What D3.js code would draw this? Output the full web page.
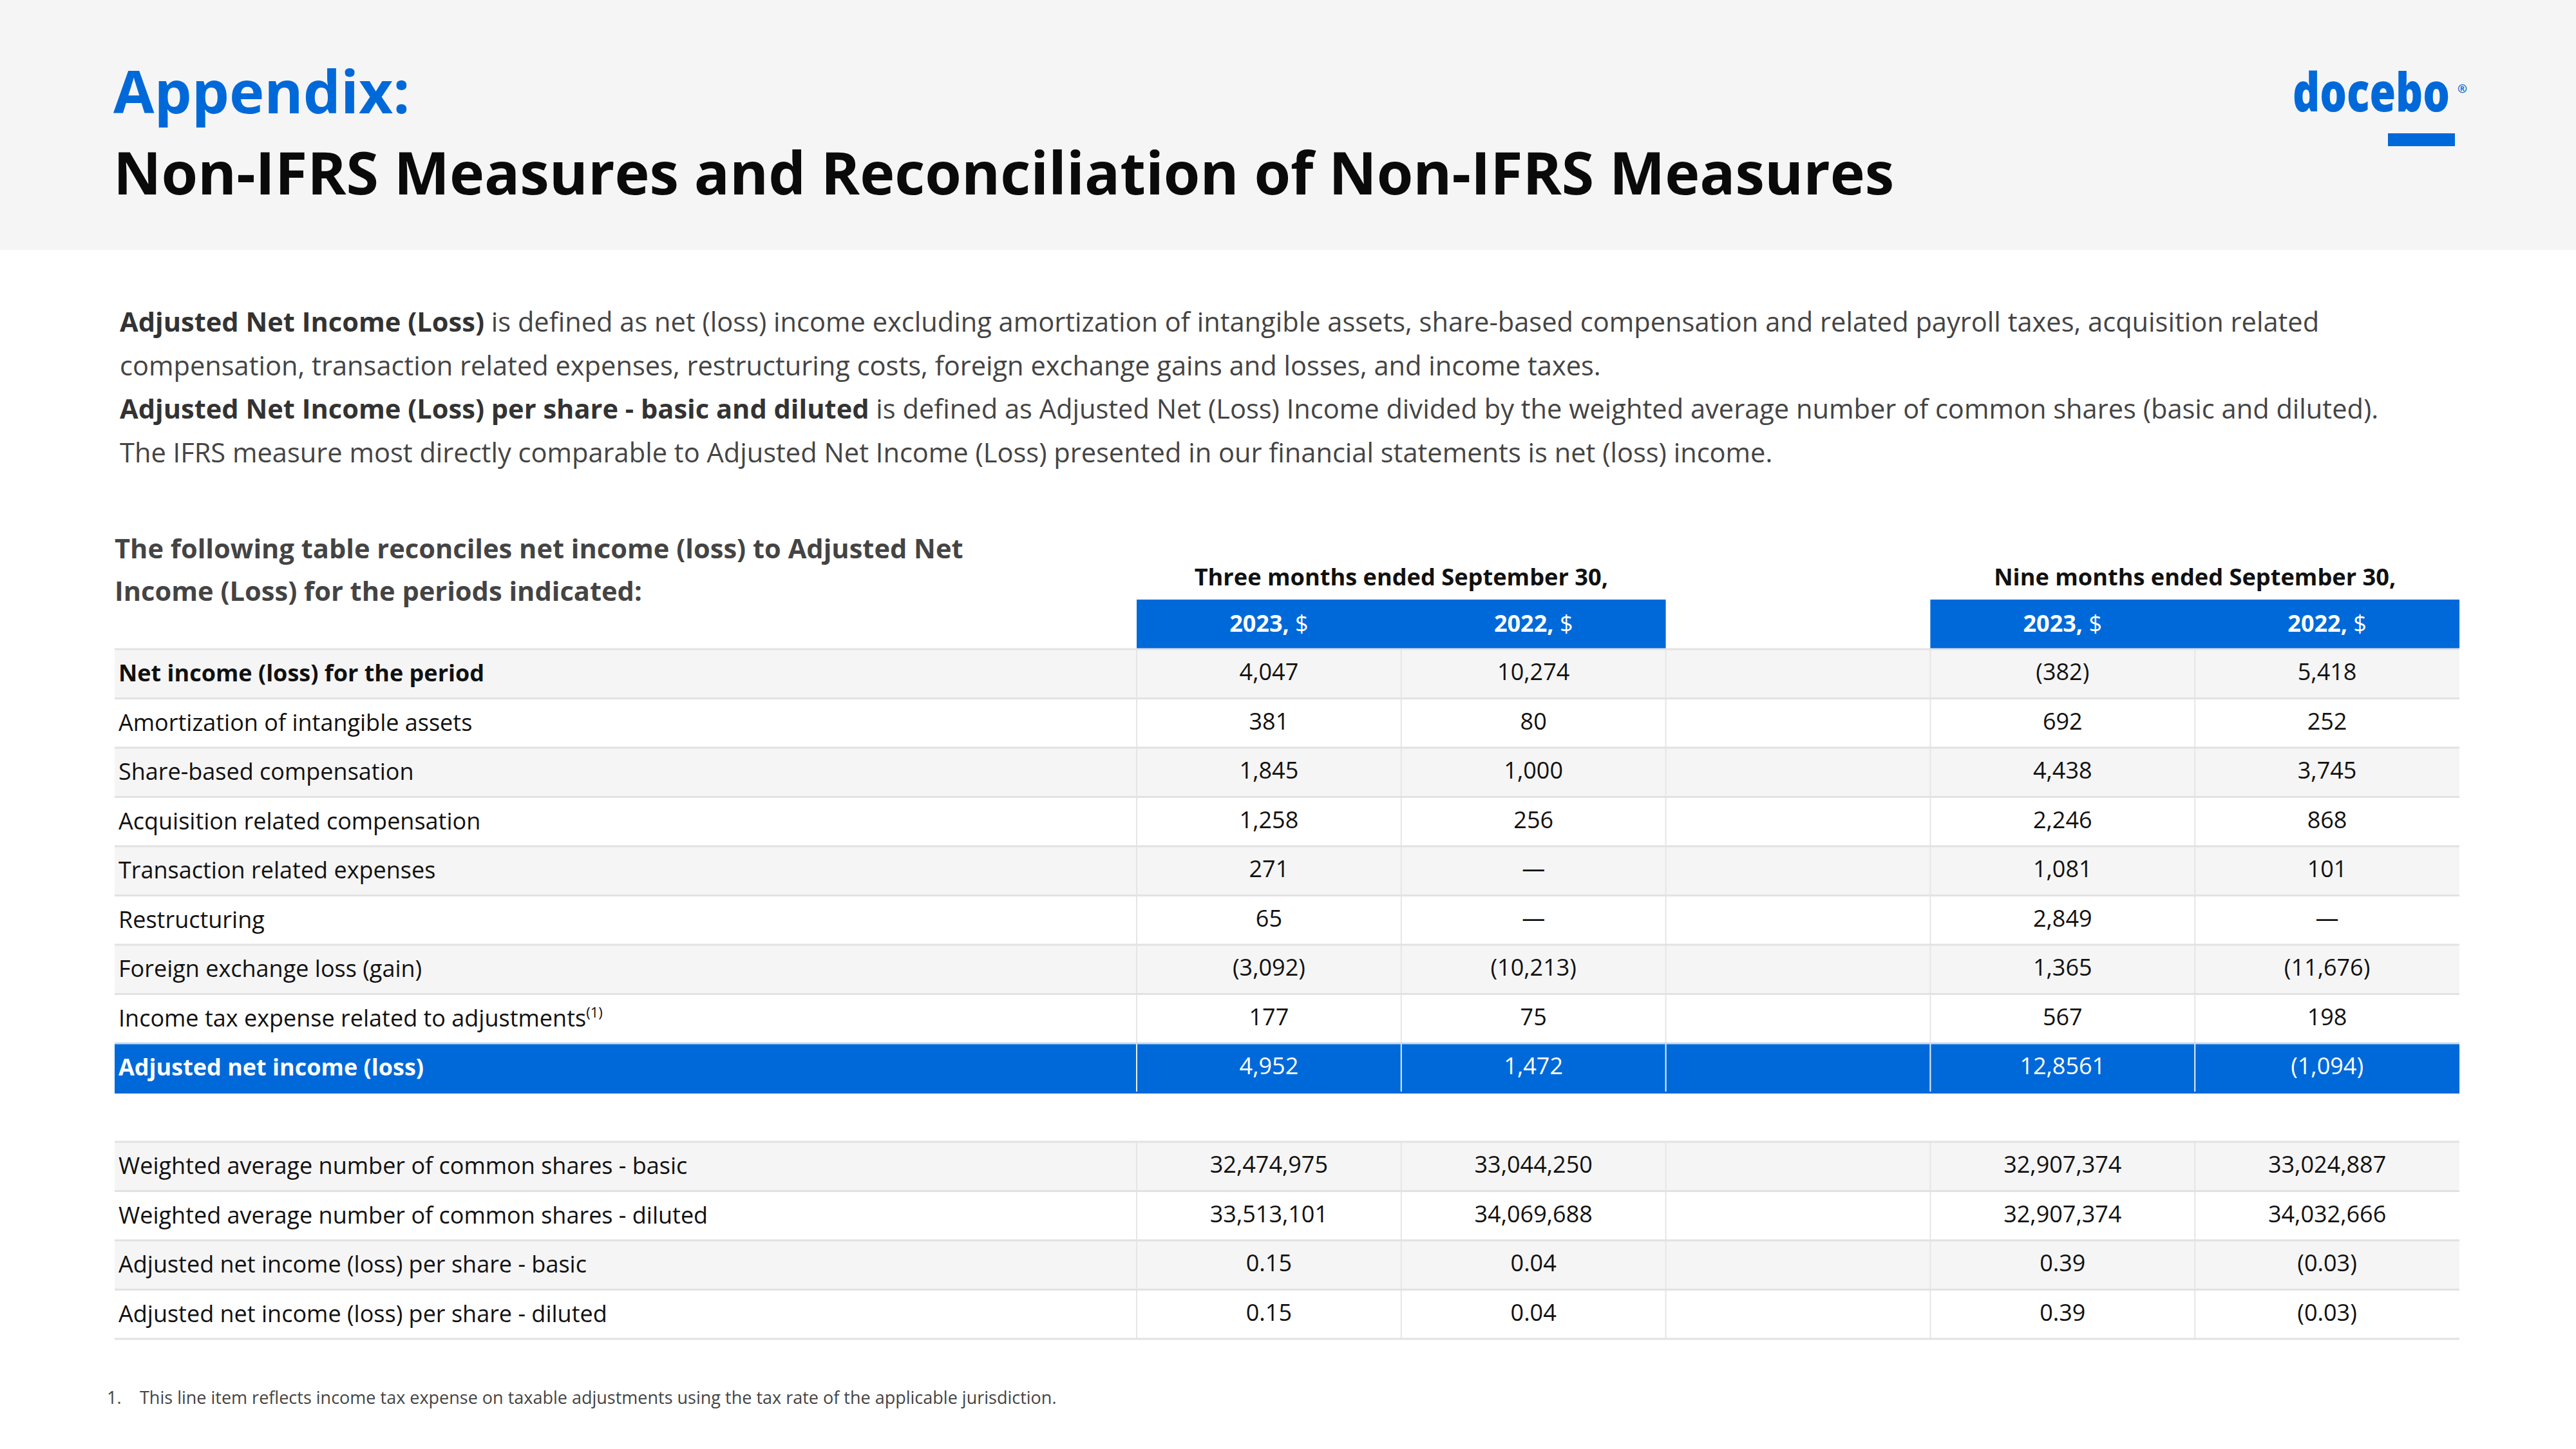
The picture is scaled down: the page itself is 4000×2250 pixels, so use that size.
<!DOCTYPE html>
<html><head><meta charset="utf-8">
<script src="https://cdn.jsdelivr.net/npm/d3@7"></script>
<style>html,body{margin:0;padding:0;background:#fff;} svg{display:block;font-family:"Open Sans",sans-serif;}</style>
</head><body>
<script>
// ---------- data ----------
const columnHeaders = ["2023,", "2022,", "", "2023,", "2022,"];
const periodHeaders = ["Three months ended September 30,", "Nine months ended September 30,"];
const rowLabels = [
  "Net income (loss) for the period",
  "Amortization of intangible assets",
  "Share-based compensation",
  "Acquisition related compensation",
  "Transaction related expenses",
  "Restructuring",
  "Foreign exchange loss (gain)",
  "Income tax expense related to adjustments",
  "Adjusted net income (loss)"
];
const threeMonths2023 = ["4,047","381","1,845","1,258","271","65","(3,092)","177","4,952"];
const threeMonths2022 = ["10,274","80","1,000","256","—","—","(10,213)","75","1,472"];
const nineMonths2023  = ["(382)","692","4,438","2,246","1,081","2,849","1,365","567","12,8561"];
const nineMonths2022  = ["5,418","252","3,745","868","101","—","(11,676)","198","(1,094)"];

const shareLabels = [
  "Weighted average number of common shares - basic",
  "Weighted average number of common shares - diluted",
  "Adjusted net income (loss) per share - basic",
  "Adjusted net income (loss) per share - diluted"
];
const shares3m2023 = ["32,474,975","33,513,101","0.15","0.15"];
const shares3m2022 = ["33,044,250","34,069,688","0.04","0.04"];
const shares9m2023 = ["32,907,374","32,907,374","0.39","0.39"];
const shares9m2022 = ["33,024,887","34,032,666","(0.03)","(0.03)"];

// ---------- drawing ----------
const W = 4000, H = 2250;
const BLUE = "#0069d9";
const svg = d3.select("body").append("svg").attr("width", W).attr("height", H);

svg.append("rect").attr("x",0).attr("y",0).attr("width",W).attr("height",H).attr("fill","#fff");
svg.append("rect").attr("x",0).attr("y",0).attr("width",W).attr("height",388).attr("fill","#f5f5f5");

svg.append("text").attr("x",176).attr("y",176).attr("font-size",92).attr("font-weight",700)
  .attr("fill",BLUE).text("Appendix:");
svg.append("text").attr("x",176).attr("y",302).attr("font-size",91.5).attr("font-weight",700)
  .attr("fill","#0a0a0a").text("Non-IFRS Measures and Reconciliation of Non-IFRS Measures");

// logo: word scaled horizontally to the logo width
const logoG = svg.append("g").attr("transform","translate(3560,173)");
const logoT = logoG.append("text").attr("x",0).attr("y",0).attr("font-size",84).attr("font-weight",800)
  .attr("fill",BLUE).text("docebo");
const natural = logoT.node().getComputedTextLength();
logoG.attr("transform",`translate(3560,173) scale(${244/natural},1)`);
svg.append("text").attr("x",3816).attr("y",144).attr("font-size",18).attr("font-weight",700)
  .attr("fill",BLUE).text("®");
svg.append("rect").attr("x",3708).attr("y",207).attr("width",104).attr("height",20).attr("fill",BLUE);

// paragraph
const para = [
  [["Adjusted Net Income (Loss)",true],[" is defined as net (loss) income excluding amortization of intangible assets, share-based compensation and related payroll taxes, acquisition related",false]],
  [["compensation, transaction related expenses, restructuring costs, foreign exchange gains and losses, and income taxes.",false]],
  [["Adjusted Net Income (Loss) per share - basic and diluted",true],[" is defined as Adjusted Net (Loss) Income divided by the weighted average number of common shares (basic and diluted).",false]],
  [["The IFRS measure most directly comparable to Adjusted Net Income (Loss) presented in our financial statements is net (loss) income.",false]]
];
para.forEach((line,i)=>{
  const t = svg.append("text").attr("x",186).attr("y",515+i*67.5).attr("font-size",41.6).attr("fill","#444");
  line.forEach(([s,b])=>t.append("tspan").attr("font-weight",b?700:400).attr("fill",b?"#333":"#444").text(s));
});

// table intro
["The following table reconciles net income (loss) to Adjusted Net","Income (Loss) for the periods indicated:"].forEach((s,i)=>{
  svg.append("text").attr("x",178).attr("y",867+i*66).attr("font-size",41.6).attr("font-weight",700)
    .attr("fill","#444").text(s);
});

// scales
const tableLeft = 178, tableRight = 3819, labelRight = 1765;
const x = d3.scaleBand().domain(d3.range(5)).range([labelRight, tableRight]);
const rowH = 76.5;
const y1 = d3.scaleBand().domain(d3.range(rowLabels.length)).range([1008, 1008+rowH*rowLabels.length]);
const y2 = d3.scaleBand().domain(d3.range(shareLabels.length)).range([1773, 1773+rowH*shareLabels.length]);

// period headers
periodHeaders.forEach((p,i)=>{
  const cx = i===0 ? x(1) : x(4);
  svg.append("text").attr("x",cx).attr("y",909).attr("text-anchor","middle").attr("font-size",36.2)
    .attr("font-weight",700).attr("fill","#111").text(p);
});
// blue header cells
[[0,1],[3,4]].forEach(([a,b])=>{
  svg.append("rect").attr("x",x(a)).attr("y",931).attr("width",x(b)+x.bandwidth()-x(a))
    .attr("height",1008-931).attr("fill",BLUE);
});
columnHeaders.forEach((h,i)=>{
  if(!h) return;
  const t = svg.append("text").attr("x",x(i)+x.bandwidth()/2).attr("y",981).attr("text-anchor","middle")
    .attr("font-size",36).attr("fill","#fff");
  t.append("tspan").attr("font-weight",700).text(h);
  t.append("tspan").attr("font-weight",400).text(" $");
});

function drawTable(y, labels, cols, highlightLast){
  const g = svg.append("g");
  const n = labels.length;
  labels.forEach((lab,i)=>{
    const isHL = highlightLast && i===n-1;
    g.append("rect").attr("x",tableLeft).attr("y",y(i)).attr("width",tableRight-tableLeft).attr("height",y.bandwidth())
      .attr("fill", isHL ? BLUE : (i%2===0 ? "#f5f5f5" : "#ffffff"));
  });
  // vertical lines
  [labelRight, ...d3.range(1,5).map(c=>x(c))].forEach(vx=>{
    labels.forEach((lab,i)=>{
      const isHL = highlightLast && i===n-1;
      g.append("line").attr("x1",vx).attr("x2",vx).attr("y1",y(i)).attr("y2",y(i)+y.bandwidth())
        .attr("stroke", isHL ? "#e6eefa" : "#e6e6e6").attr("stroke-width",2);
    });
  });
  // horizontal lines
  d3.range(n+1).forEach(i=>{
    const yy = i<n ? y(i) : y(n-1)+y.bandwidth();
    g.append("line").attr("x1",tableLeft).attr("x2",tableRight).attr("y1",yy).attr("y2",yy)
      .attr("stroke", (highlightLast && i===n) ? BLUE : (highlightLast && i===n-1 ? "#c9dbf2" : "#e2e2e2")).attr("stroke-width",3);
  });
  labels.forEach((lab,i)=>{
    const isHL = highlightLast && i===n-1;
    const bold = (highlightLast && (i===0 || i===n-1));
    const t = g.append("text").attr("x",184).attr("y",y(i)+y.bandwidth()/2+12).attr("font-size",36)
      .attr("font-weight",bold?700:400).attr("fill",isHL?"#fff":"#111").text(lab);
    if(lab.startsWith("Income tax expense")){
      t.append("tspan").attr("font-size",22).attr("dy",-14).text("(1)");
    }
    cols.forEach((vals,c)=>{
      const ci = c<2 ? c : c+1;
      g.append("text").attr("x",x(ci)+x.bandwidth()/2).attr("y",y(i)+y.bandwidth()/2+10)
        .attr("text-anchor","middle").attr("font-size",36).attr("fill",isHL?"#fff":"#111").text(vals[i]);
    });
  });
}
drawTable(y1, rowLabels, [threeMonths2023, threeMonths2022, nineMonths2023, nineMonths2022], true);
drawTable(y2, shareLabels, [shares3m2023, shares3m2022, shares9m2023, shares9m2022], false);

// footnote
svg.append("text").attr("x",166).attr("y",2180).attr("font-size",27).attr("fill","#444").text("1.");
svg.append("text").attr("x",217).attr("y",2180).attr("font-size",27).attr("fill","#444")
  .text("This line item reflects income tax expense on taxable adjustments using the tax rate of the applicable jurisdiction.");
</script>
</body></html>
